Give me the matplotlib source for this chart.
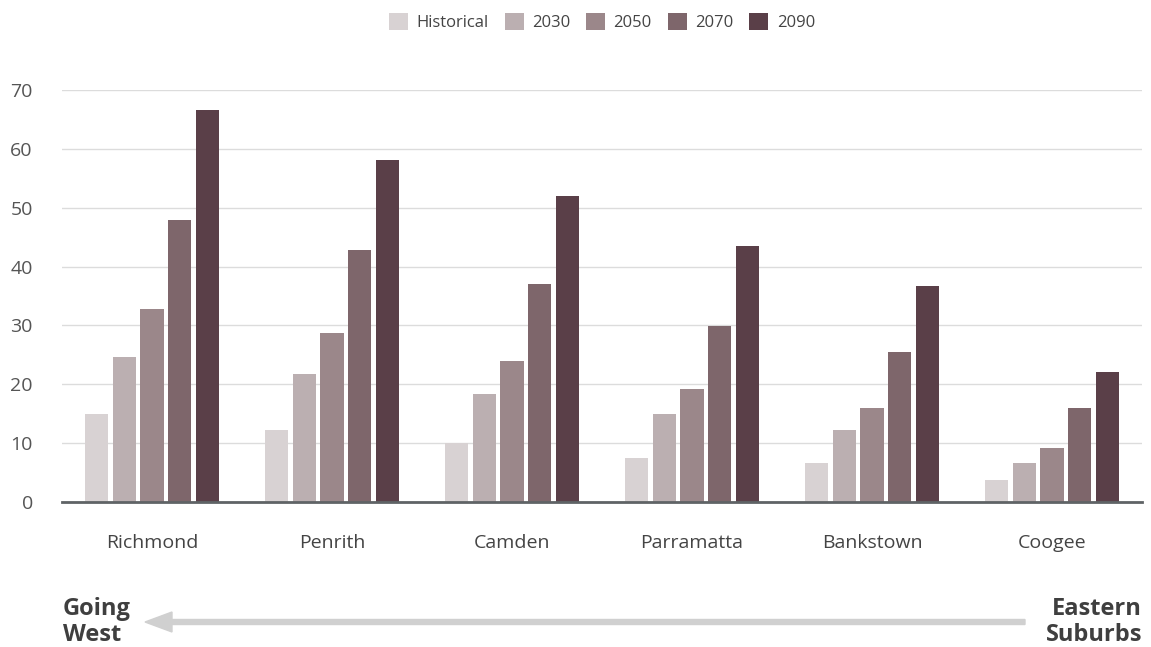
import numpy as np
import matplotlib
matplotlib.use("Agg")
import matplotlib.pyplot as plt

plt.rcParams['font.family'] = ['Open Sans', 'DejaVu Sans']

suburbs = ['Richmond', 'Penrith', 'Camden', 'Parramatta', 'Bankstown', 'Coogee']
series = ['Historical', '2030', '2050', '2070', '2090']
historical = [15.0, 12.2, 10.0, 7.5, 6.6, 3.7]
y2030 = [24.6, 21.7, 18.3, 15.0, 12.2, 6.6]
y2050 = [32.8, 28.7, 24.0, 19.2, 16.0, 9.2]
y2070 = [47.9, 42.8, 37.0, 29.9, 25.5, 16.0]
y2090 = [66.6, 58.1, 52.0, 43.5, 36.7, 22.1]
values = [historical, y2030, y2050, y2070, y2090]
colors = ['#d8d2d3', '#bbafb1', '#9b878a', '#7e666b', '#5a3f48']

fig = plt.figure(figsize=(11.51, 6.47), dpi=100, facecolor='white')
ax = fig.add_axes([62/1151, 1-502/647, (1142-62)/1151, (502-90)/647])

x = np.arange(len(suburbs))
step = 0.155
width = 0.128
for i, (name, vals, c) in enumerate(zip(series, values, colors)):
    ax.bar(x + (i - 2) * step, vals, width, color=c, label=name, zorder=3)

ax.set_xlim(-0.5, len(suburbs) - 0.5)
ax.set_ylim(0, 70)
ax.set_yticks(range(0, 71, 10))
ax.set_xticks(x)
ax.set_xticklabels(suburbs, fontsize=14, color='#444444')
ax.tick_params(axis='x', length=0, pad=23)
ax.tick_params(axis='y', length=0, pad=21, labelsize=14, labelcolor='#555555')
ax.grid(axis='y', color='#dcdcdc', linewidth=1, zorder=0)
for s in ['top', 'right', 'left']:
    ax.spines[s].set_visible(False)
ax.spines['bottom'].set_color('#5f6366')
ax.spines['bottom'].set_linewidth(2)
ax.spines['bottom'].set_zorder(4)

fig.legend(loc='center', bbox_to_anchor=(602/1151, 1-22/647), ncol=5, frameon=False,
           fontsize=12, handlelength=1.15, handleheight=1.15, handletextpad=0.5,
           columnspacing=0.95, labelcolor='#444444')

# bottom direction arrow
fig.text(63/1151, 1-622/647, 'Going\nWest', fontsize=17, fontweight='bold', color='#3f3f3f',
         ha='left', va='center', linespacing=1.15)
fig.text(1142/1151, 1-622/647, 'Eastern\nSuburbs', fontsize=17, fontweight='bold', color='#3f3f3f',
         ha='right', va='center', linespacing=1.15, multialignment='right')
fig.patches.append(matplotlib.patches.FancyArrow(
    1025/1151, 1-622/647, -(1025-145)/1151, 0, width=5/647, head_width=20/647,
    head_length=27/1151, length_includes_head=True, color='#d0d0d0',
    transform=fig.transFigure, figure=fig))

fig.savefig('out.png', dpi=100)
